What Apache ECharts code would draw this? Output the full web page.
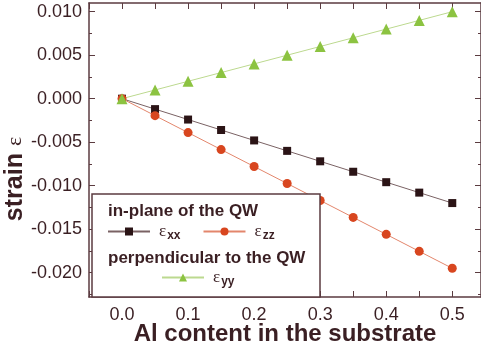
<!DOCTYPE html>
<html>
<head>
<meta charset="utf-8">
<script src="https://cdn.jsdelivr.net/npm/echarts@6/dist/echarts.min.js"></script>
<style>
  html, body { margin: 0; padding: 0; background: #fff; }
  #chart { width: 481px; height: 353px; }
</style>
</head>
<body>
<div id="chart"></div>
<script>
// Al content (x) and strain values
const alContent = [0, 0.05, 0.1, 0.15, 0.2, 0.25, 0.3, 0.35, 0.4, 0.45, 0.5];
const epsXX = [0, -0.0012, -0.0024, -0.0036, -0.0048, -0.006, -0.0072, -0.0084, -0.0096, -0.0108, -0.012];
const epsZZ = [0, -0.00195, -0.0039, -0.00585, -0.0078, -0.00975, -0.0117, -0.01365, -0.0156, -0.01755, -0.0195];
const epsYY = [0, 0.001, 0.002, 0.003, 0.004, 0.005, 0.006, 0.007, 0.008, 0.009, 0.010];

// tick labels
const xLabels = [0, 0.1, 0.2, 0.3, 0.4, 0.5];
const xTicks = [-0.05, 0, 0.05, 0.1, 0.15, 0.2, 0.25, 0.3, 0.35, 0.4, 0.45, 0.5];
const yLabels = [-0.02, -0.015, -0.01, -0.005, 0, 0.005, 0.01];
const yMinorTicks = [-0.0225, -0.0175, -0.0125, -0.0075, -0.0025, 0.0025, 0.0075];

const ink = '#3a1f23';
const axisColor = '#5b3b40';

const pairs = (ys) => alContent.map((x, i) => [x, ys[i]]);

const chart = echarts.init(document.getElementById('chart'));

const yBase = { type: 'value', min: -0.0228, max: 0.011, splitLine: { show: false } };
const xBase = { type: 'value', min: -0.05, max: 0.5435, splitLine: { show: false } };
const frameLine = { show: true, onZero: false, lineStyle: { color: axisColor, width: 1.5 } };
const noLine = { show: false, onZero: false };

const legendRich = {
  e: { fontSize: 17, fontFamily: 'Liberation Serif', color: ink, padding: [0, 0, 0, 4] },
  s: { fontSize: 12, fontWeight: 'bold', color: ink, padding: [9, 0, 0, 1] }
};

const option = {
  animation: false,
  textStyle: { fontFamily: 'Liberation Sans, Arial, sans-serif', color: ink },
  grid: { left: 89, top: 3, right: 0, bottom: 56, containLabel: false, outerBoundsMode: 'none' },
  xAxis: [
    {
      ...xBase,
      position: 'bottom',
      axisLine: frameLine,
      axisTick: { show: true, inside: true, length: 6, customValues: xTicks, lineStyle: { color: axisColor } },
      axisLabel: {
        customValues: xLabels, margin: 9, fontSize: 18, color: ink,
        formatter: (v) => v.toFixed(1)
      },
      name: 'Al content in the substrate',
      nameLocation: 'middle',
      nameMoveOverlap: false,
      nameGap: 25,
      nameTextStyle: { fontSize: 24, fontWeight: 'bold', color: ink }
    },
    {
      ...xBase,
      position: 'top',
      axisLine: frameLine,
      axisTick: { show: true, inside: true, length: 6, customValues: xTicks, lineStyle: { color: axisColor } },
      axisLabel: { show: false }
    }
  ],
  yAxis: [
    {
      ...yBase,
      position: 'left',
      axisLine: frameLine,
      axisTick: { show: true, inside: true, length: 6, customValues: yLabels, lineStyle: { color: axisColor } },
      axisLabel: {
        customValues: yLabels, margin: 7, fontSize: 18, color: ink,
        formatter: (v) => v.toFixed(3)
      },
      name: '{b|strain }{e|ε}',
      nameLocation: 'middle',
      nameMoveOverlap: false,
      nameGap: 61,
      nameTextStyle: {
        padding: [0, 58, 0, 0],
        rich: {
          b: { fontSize: 25, fontWeight: 'bold', color: ink, fontFamily: 'Liberation Sans' },
          e: { fontSize: 22, color: ink, fontFamily: 'Liberation Serif' }
        }
      }
    },
    {
      ...yBase,
      position: 'left',
      axisLine: noLine,
      axisTick: { show: true, inside: true, length: 3, customValues: yMinorTicks, lineStyle: { color: axisColor } },
      axisLabel: { show: false }
    },
    {
      ...yBase,
      position: 'right',
      axisLine: frameLine,
      axisTick: { show: true, inside: true, length: 6, customValues: yLabels, lineStyle: { color: axisColor } },
      axisLabel: { show: false }
    },
    {
      ...yBase,
      position: 'right',
      axisLine: noLine,
      axisTick: { show: true, inside: true, length: 3, customValues: yMinorTicks, lineStyle: { color: axisColor } },
      axisLabel: { show: false }
    }
  ],
  legend: [
    {
      zlevel: 2, padding: 0,
      left: 107, top: 223,
      itemWidth: 42, itemHeight: 10, itemGap: 22,
      data: ['xx', 'zz'],
      formatter: (n) => '{e|ε}{s|' + n + '}',
      textStyle: { rich: legendRich }
    },
    {
      zlevel: 2, padding: 0,
      left: 161, top: 269,
      itemWidth: 42, itemHeight: 10,
      data: ['yy'],
      formatter: (n) => '{e|ε}{s|' + n + '}',
      textStyle: { rich: legendRich }
    }
  ],
  graphic: [
    {
      type: 'rect', zlevel: 1,
      shape: { x: 92, y: 194, width: 228, height: 103 },
      style: { fill: '#fff', stroke: axisColor, lineWidth: 1.5 }
    },
    {
      type: 'text', zlevel: 1, z: 1, left: 108, top: 203,
      style: { text: 'in-plane of the QW', fontSize: 17, fontWeight: 'bold', fill: ink, fontFamily: 'Liberation Sans' }
    },
    {
      type: 'text', zlevel: 1, z: 1, left: 108, top: 250,
      style: { text: 'perpendicular to the QW', fontSize: 17, fontWeight: 'bold', fill: ink, fontFamily: 'Liberation Sans' }
    }
  ],
  series: [
    {
      name: 'xx', type: 'line', data: pairs(epsXX),
      symbol: 'rect', symbolSize: 8,
      itemStyle: { color: '#2b1416' },
      lineStyle: { color: '#7a6264', width: 1 }
    },
    {
      name: 'zz', type: 'line', data: pairs(epsZZ),
      symbol: 'circle', symbolSize: 9,
      itemStyle: { color: '#d8461f' },
      lineStyle: { color: '#e3866c', width: 1 }
    },
    {
      name: 'yy', type: 'line', data: pairs(epsYY),
      symbol: 'triangle', symbolSize: 11,
      itemStyle: { color: '#8cc341' },
      lineStyle: { color: '#bcd98f', width: 1 }
    }
  ]
};

chart.setOption(option);
</script>
</body>
</html>
